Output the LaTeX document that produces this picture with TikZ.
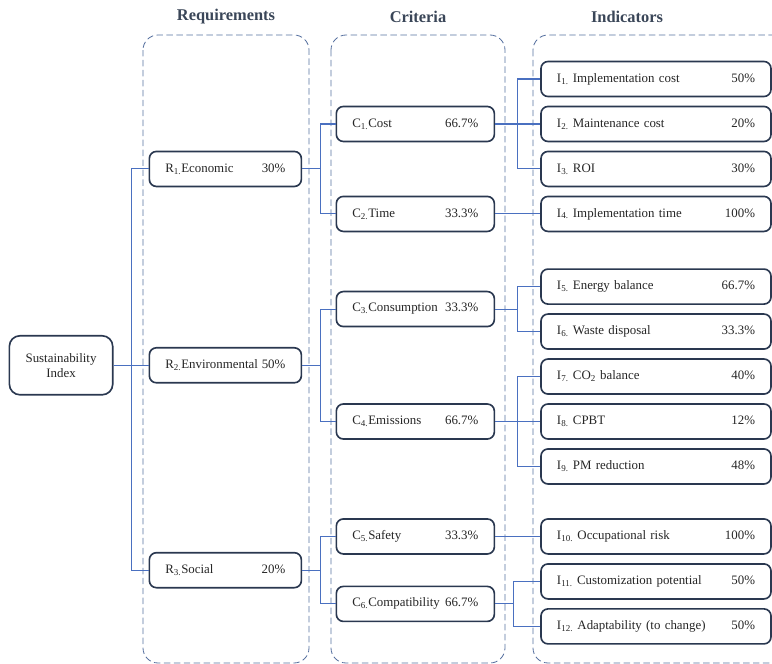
\documentclass[tikz,border=0pt]{standalone}
\usepackage{fontspec}
\setmainfont{Liberation Serif}
\usetikzlibrary{positioning,calc}

\definecolor{boxline}{HTML}{2A3850}
\definecolor{linkblue}{HTML}{4A70C0}
\definecolor{framecol}{HTML}{56709F}
\definecolor{txtcol}{HTML}{262626}
\definecolor{titlecol}{HTML}{3A4658}

% label on the left, weight on the right
\newcommand{\wl}[2]{\hbox to\hsize{#1\hfill#2}}

\begin{document}
\begin{tikzpicture}[x=0.03cm,y=-0.03cm,
  box/.style={draw=boxline, line width=1.4pt, rounded corners=6pt, fill=white,
    minimum height=1.05cm, inner xsep=0.48cm, text=txtcol,
    font=\fontsize{11}{13}\selectfont},
  rbox/.style={box, text width=3.6cm},
  cbox/.style={box, text width=3.78cm},
  ibox/.style={box, text width=5.94cm},
  link/.style={draw=linkblue, line width=0.9pt},
  frame/.style={draw=framecol, dash pattern=on 5.5pt off 3pt, line width=0.7pt,
    rounded corners=0.45cm},
  title/.style={font=\fontsize{14}{16}\selectfont\bfseries, text=titlecol}]
\useasboundingbox (0,0) rectangle (772,664);
\clip (0,0) rectangle (772,664);

% columns
\draw[frame] (143,35) rectangle (309,663);
\draw[frame] (331,35) rectangle (505,663);
\draw[frame] (533,35) rectangle (800,663);
\node[title] (tReq) at (226,17) {Requirements};
\node[title] (tCrit) at (418,17) {Criteria};
\node[title] (tInd) at (627,17) {Indicators};

% indicators
\node[ibox] (I1) at (656,79) {\wl{I\textsubscript{1.} Implementation cost}{50\%}};
\node[ibox, below=0.25cm of I1] (I2) {\wl{I\textsubscript{2.} Maintenance cost}{20\%}};
\node[ibox, below=0.25cm of I2] (I3) {\wl{I\textsubscript{3.} ROI}{30\%}};
\node[ibox, below=0.25cm of I3] (I4) {\wl{I\textsubscript{4.} Implementation time}{100\%}};
\node[ibox, below=1.08cm of I4] (I5) {\wl{I\textsubscript{5.} Energy balance}{66.7\%}};
\node[ibox, below=0.25cm of I5] (I6) {\wl{I\textsubscript{6.} Waste disposal}{33.3\%}};
\node[ibox, below=0.25cm of I6] (I7) {\wl{I\textsubscript{7.} CO\textsubscript{2} balance}{40\%}};
\node[ibox, below=0.25cm of I7] (I8) {\wl{I\textsubscript{8.} CPBT}{12\%}};
\node[ibox, below=0.25cm of I8] (I9) {\wl{I\textsubscript{9.} PM reduction}{48\%}};
\node[ibox, below=1.0cm of I9] (I10) {\wl{I\textsubscript{10.} Occupational risk}{100\%}};
\node[ibox, below=0.25cm of I10] (I11) {\wl{I\textsubscript{11.} Customization potential}{50\%}};
\node[ibox, below=0.25cm of I11] (I12) {\wl{I\textsubscript{12.} Adaptability (to change)}{50\%}};

% criteria
\coordinate (m56) at ($(I5.west)!0.5!(I6.west)$);
\coordinate (m1112) at ($(I11.west)!0.5!(I12.west)$);
\node[cbox, left=1.35cm of I2] (C1) {\wl{C\textsubscript{1.}Cost}{66.7\%}};
\node[cbox, left=1.35cm of I4] (C2) {\wl{C\textsubscript{2.}Time}{33.3\%}};
\node[cbox, left=1.35cm of m56] (C3) {\wl{C\textsubscript{3.}Consumption}{33.3\%}};
\node[cbox, left=1.35cm of I8] (C4) {\wl{C\textsubscript{4.}Emissions}{66.7\%}};
\node[cbox, left=1.35cm of I10] (C5) {\wl{C\textsubscript{5.}Safety}{33.3\%}};
\node[cbox, left=1.35cm of m1112] (C6) {\wl{C\textsubscript{6.}Compatibility}{66.7\%}};

% requirements
\coordinate (m12) at ($(C1.west)!0.5!(C2.west)$);
\coordinate (m34) at ($(C3.west)!0.5!(C4.west)$);
\coordinate (m56c) at ($(C5.west)!0.5!(C6.west)$);
\node[rbox, left=1.0cm of m12] (R1) {\wl{R\textsubscript{1.}Economic}{30\%}};
\node[rbox, left=1.0cm of m34] (R2) {\wl{R\textsubscript{2.}Environmental}{50\%}};
\node[rbox, left=1.0cm of m56c] (R3) {\wl{R\textsubscript{3.}Social}{20\%}};

\node[box, left=1.05cm of R2, minimum width=3.1cm, minimum height=1.77cm,
  inner xsep=4pt, align=center, rounded corners=9pt] (SI) {Sustainability\\Index};

% connectors
\foreach \r in {R1,R2,R3}
  \draw[link] (SI.east) -- ++(0.54cm,0) |- (\r.west);
\foreach \c in {C1,C2}
  \draw[link] (R1.east) -- ++(0.54cm,0) |- (\c.west);
\foreach \c in {C3,C4}
  \draw[link] (R2.east) -- ++(0.54cm,0) |- (\c.west);
\foreach \c in {C5,C6}
  \draw[link] (R3.east) -- ++(0.54cm,0) |- (\c.west);
\foreach \i in {I1,I2,I3}
  \draw[link] (C1.east) -- ++(0.66cm,0) |- (\i.west);
\draw[link] (C2.east) -- (I4.west);
\foreach \i in {I5,I6}
  \draw[link] (C3.east) -- ++(0.66cm,0) |- (\i.west);
\foreach \i in {I7,I8,I9}
  \draw[link] (C4.east) -- ++(0.66cm,0) |- (\i.west);
\draw[link] (C5.east) -- (I10.west);
\foreach \i in {I11,I12}
  \draw[link] (C6.east) -- ++(0.54cm,0) |- (\i.west);
\end{tikzpicture}
\end{document}
